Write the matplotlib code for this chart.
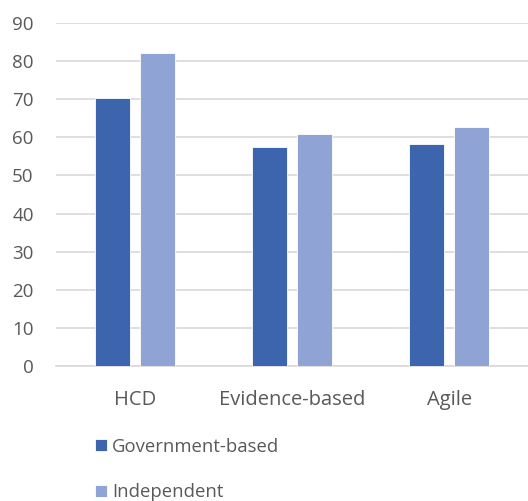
import matplotlib.pyplot as plt
import numpy as np

categories = ["HCD", "Evidence-based", "Agile"]
gov_values = [70.4, 57.5, 58.2]
ind_values = [82.1, 60.8, 62.7]
series_names = ["Government-based", "Independent"]
y_ticks = [0, 10, 20, 30, 40, 50, 60, 70, 80, 90]

GOV_COLOR = "#3d65ad"
IND_COLOR = "#8fa4d5"
TEXT_COLOR = "#595959"
GRID_COLOR = "#d9d9d9"

plt.rcParams["font.family"] = ["Open Sans", "DejaVu Sans"]

fig = plt.figure(figsize=(5.28, 5.01), dpi=100)
ax = fig.add_axes([0.106, 0.2695, 0.894, 0.6846])

x = np.arange(len(categories))
width = 0.223
offset = 0.143
ax.bar(x - offset, gov_values, width, color=GOV_COLOR, edgecolor="white",
       linewidth=0.6, label=series_names[0], zorder=3)
ax.bar(x + offset, ind_values, width, color=IND_COLOR, edgecolor="white",
       linewidth=0.6, label=series_names[1], zorder=3)

ax.set_xlim(-0.5, len(categories) - 0.5)
ax.set_ylim(0, 90)
ax.set_yticks(y_ticks)
ax.set_xticks(x)
ax.set_xticklabels(categories)
ax.yaxis.grid(True, color=GRID_COLOR, linewidth=1.2, zorder=0)
ax.set_axisbelow(True)
for side in ["top", "right", "left"]:
    ax.spines[side].set_visible(False)
ax.spines["bottom"].set_color(GRID_COLOR)
ax.spines["bottom"].set_linewidth(1.2)
ax.tick_params(axis="y", length=0, colors=TEXT_COLOR, labelsize=13.5, pad=16)
ax.tick_params(axis="x", length=0, colors=TEXT_COLOR, labelsize=14.5, pad=17)

fig.legend(loc="upper left", bbox_to_anchor=(0.165, 0.141), frameon=False,
           fontsize=13.3, labelcolor=TEXT_COLOR, handlelength=0.65,
           handleheight=0.65, handletextpad=0.3, labelspacing=1.5,
           borderaxespad=0)

fig.savefig("out.png", dpi=100)
